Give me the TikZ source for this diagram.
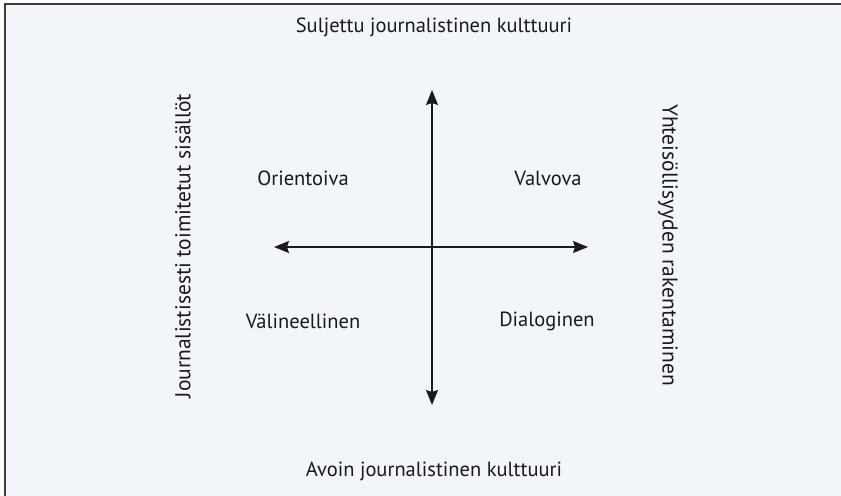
\documentclass[tikz,border=0pt]{standalone}
\usepackage{fontspec}
\setmainfont{PT Sans}
\usetikzlibrary{arrows.meta}
\definecolor{bgblue}{HTML}{F2F5FA}
\definecolor{frame}{HTML}{3C3C3C}
\definecolor{ink}{HTML}{1A1A1A}
\tikzset{
  lbl/.style={font=\fontsize{20.5bp}{24bp}\selectfont, text=ink, inner sep=0pt},
  sidelbl/.style={font=\fontsize{21.5bp}{25bp}\selectfont, text=ink, inner sep=0pt},
  axis/.style={draw=ink, line width=1.4bp, {Stealth[length=15bp,width=12bp,inset=2bp]}-{Stealth[length=15bp,width=12bp,inset=2bp]}},
}
\begin{document}
\begin{tikzpicture}[x=1bp,y=-1bp]
\useasboundingbox (0,0) rectangle (841,496);
\fill[white] (0,0) rectangle (841,496);
\fill[bgblue] (5,4) rectangle (841,496);
\draw[frame, line width=2.5bp] (5,496) -- (5,4) -- (841,4);
\coordinate (vt) at (432,90);
\coordinate (vb) at (432,405);
\coordinate (hl) at (274,247);
\coordinate (hr) at (588,247);
\draw[axis] (vt) -- (vb);
\draw[axis] (hl) -- (hr);
\node[lbl] (top) at (434,27) {Suljettu journalistinen kulttuuri};
\node[lbl] (bot) at (434,471) {Avoin journalistinen kulttuuri};
\node[lbl] (q1) at (303,178) {Orientoiva};
\node[lbl] (q2) at (548,178) {Valvova};
\node[lbl] (q3) at (303,321) {Välineellinen};
\node[lbl] (q4) at (547,321) {Dialoginen};
\node[sidelbl, rotate=90] (lft) at (183,246) {Journalistisesti toimitetut sisällöt};
\node[sidelbl, rotate=-90] (rgt) at (668,245) {Yhteisöllisyyden rakentaminen};
\end{tikzpicture}
\end{document}
